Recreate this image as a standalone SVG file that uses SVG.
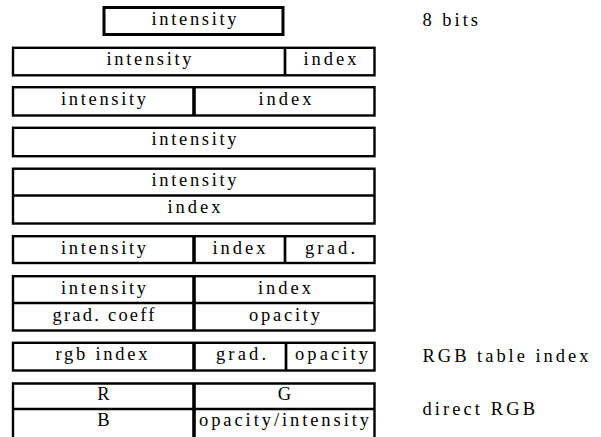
<svg xmlns="http://www.w3.org/2000/svg" width="601" height="437" viewBox="0 0 601 437">
<style>
.b{fill:none;stroke:#000;stroke-width:2.4}
.b1{fill:none;stroke:#000;stroke-width:3}
.d{stroke:#000;stroke-width:3.6}
.d2{stroke:#000;stroke-width:2.7}
.t{font-family:'Liberation Serif','Times New Roman',serif;font-size:18.5px;text-anchor:middle;fill:#000}
.l{text-anchor:start}
</style>
<rect width="601" height="437" fill="#fff"/>
<g id="row1">
<rect class="b1" x="104" y="7.5" width="179" height="27"/>
<text class="t" x="194" y="25" textLength="85" lengthAdjust="spacing">intensity</text>
</g>
<g id="row2">
<rect class="b" x="13" y="47.8" width="361.5" height="27.5"/>
<line class="d2" x1="285" y1="47.8" x2="285" y2="75.3"/>
<text class="t" x="149" y="65.3" textLength="85" lengthAdjust="spacing">intensity</text>
<text class="t" x="330" y="65.3" textLength="53" lengthAdjust="spacing">index</text>
</g>
<g id="row3">
<rect class="b" x="13" y="87.2" width="361.5" height="28.3"/>
<line class="d" x1="194" y1="87.2" x2="194" y2="115.5"/>
<text class="t" x="103.5" y="104.7" textLength="85" lengthAdjust="spacing">intensity</text>
<text class="t" x="285" y="104.7" textLength="53" lengthAdjust="spacing">index</text>
</g>
<g id="row4">
<rect class="b" x="13" y="127.8" width="361.5" height="28.4"/>
<text class="t" x="194" y="145.3" textLength="85" lengthAdjust="spacing">intensity</text>
</g>
<g id="row5">
<rect class="b" x="13" y="168.7" width="361.5" height="54.8"/>
<line class="b" x1="13" y1="195.5" x2="374.5" y2="195.5"/>
<text class="t" x="194" y="186.2" textLength="85" lengthAdjust="spacing">intensity</text>
<text class="t" x="194" y="213" textLength="53" lengthAdjust="spacing">index</text>
</g>
<g id="row6">
<rect class="b" x="13" y="236.2" width="361.5" height="26.8"/>
<line class="d" x1="194" y1="236.2" x2="194" y2="263"/>
<line class="d2" x1="285" y1="236.2" x2="285" y2="263"/>
<text class="t" x="103.5" y="253.7" textLength="85" lengthAdjust="spacing">intensity</text>
<text class="t" x="239" y="253.7" textLength="53" lengthAdjust="spacing">index</text>
<text class="t" x="330" y="253.7" textLength="50" lengthAdjust="spacing">grad.</text>
</g>
<g id="row7">
<rect class="b" x="13" y="276.2" width="361.5" height="54.3"/>
<line class="b" x1="13" y1="303" x2="374.5" y2="303"/>
<line class="d" x1="194" y1="276.2" x2="194" y2="330.5"/>
<text class="t" x="103.5" y="293.7" textLength="85" lengthAdjust="spacing">intensity</text>
<text class="t" x="284.5" y="293.7" textLength="53" lengthAdjust="spacing">index</text>
<text class="t" x="103.5" y="320.5" textLength="102" lengthAdjust="spacing">grad. coeff</text>
<text class="t" x="284.5" y="320.5" textLength="71" lengthAdjust="spacing">opacity</text>
</g>
<g id="row8">
<rect class="b" x="13" y="342.8" width="361.5" height="27.7"/>
<line class="d" x1="194" y1="342.8" x2="194" y2="370.5"/>
<line class="d2" x1="286" y1="342.8" x2="286" y2="370.5"/>
<text class="t" x="101.5" y="360.3" textLength="92" lengthAdjust="spacing">rgb index</text>
<text class="t" x="241" y="360.3" textLength="50" lengthAdjust="spacing">grad.</text>
<text class="t" x="331.5" y="360.3" textLength="73" lengthAdjust="spacing">opacity</text>
</g>
<g id="row9">
<path class="b" d="M13 440V383.5H374.5V440M13 409H374.5"/>
<line class="d" x1="194" y1="383.5" x2="194" y2="440"/>
<text class="t" x="103.5" y="400" textLength="16.4" lengthAdjust="spacing">R</text>
<text class="t" x="284.5" y="400" textLength="17.5" lengthAdjust="spacing">G</text>
<text class="t" x="103.5" y="425.5" textLength="15.8" lengthAdjust="spacing">B</text>
<text class="t" x="284" y="425.5" textLength="170" lengthAdjust="spacing">opacity/intensity</text>
</g>
<g id="label-8bits">
<text class="t l" x="422.5" y="26" textLength="55.5" lengthAdjust="spacing">8 bits</text>
</g>
<g id="label-rgb-table">
<text class="t l" x="422.5" y="361.5" textLength="166" lengthAdjust="spacing">RGB table index</text>
</g>
<g id="label-direct-rgb">
<text class="t l" x="422.5" y="415" textLength="112.5" lengthAdjust="spacing">direct RGB</text>
</g>
<g id="connectors"/>
</svg>
